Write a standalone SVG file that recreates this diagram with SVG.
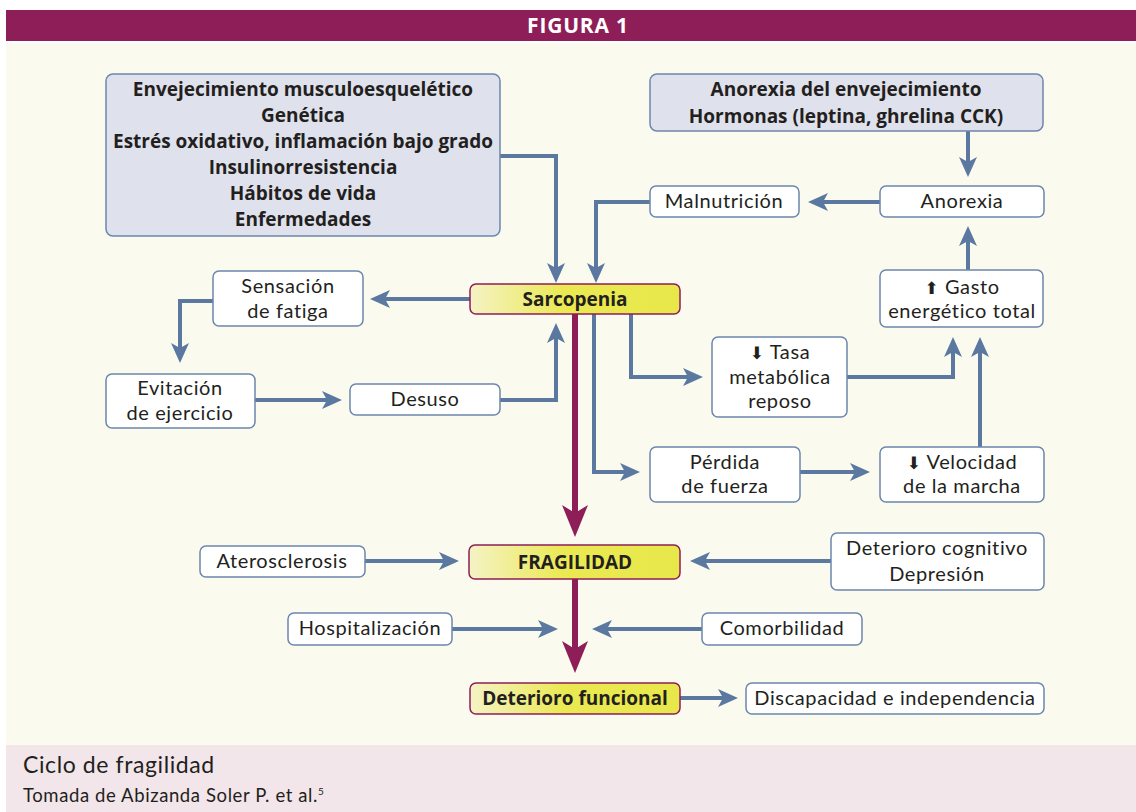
<svg xmlns="http://www.w3.org/2000/svg" width="1136" height="812" viewBox="0 0 1136 812">
  <style>
    .box { fill: #ffffff; stroke: #6c87ad; stroke-width: 1.5; }
    .grey { fill: #dfe2ec; stroke: #6c87ad; stroke-width: 1.5; }
    .key { fill: url(#yellow); stroke: #8e1e58; stroke-width: 1.5; }
    .t { font-family: Lato, "Open Sans", "Liberation Sans", sans-serif; font-size: 20px; letter-spacing: 0.6px; fill: #231f20; text-anchor: middle; }
    .b { font-family: "Open Sans", "Liberation Sans", sans-serif; font-weight: bold; font-size: 19px; letter-spacing: 0; }
    .ico { font-family: "DejaVu Sans", sans-serif; font-size: 17px; }
    .link { fill: none; stroke: #5b78a1; stroke-width: 4; marker-end: url(#head); }
    .main { fill: none; stroke: #8e1e58; stroke-width: 6; marker-end: url(#bighead); }
  </style>
  <defs>
    <linearGradient id="yellow" x1="0" y1="0" x2="1" y2="0">
      <stop offset="0" stop-color="#f5f3c6"/>
      <stop offset="0.45" stop-color="#eae952"/>
      <stop offset="1" stop-color="#e8e74a"/>
    </linearGradient>
    <marker id="head" viewBox="0 0 20 18" refX="10" refY="9" markerWidth="20" markerHeight="18" markerUnits="userSpaceOnUse" orient="auto">
      <path d="M0,0 L20,9 L0,18 L5,9 Z" fill="#5b78a1"/>
    </marker>
    <marker id="bighead" viewBox="0 0 32 26" refX="16" refY="13" markerWidth="32" markerHeight="26" markerUnits="userSpaceOnUse" orient="auto">
      <path d="M0,0 L32,13 L0,26 L8,13 Z" fill="#8e1e58"/>
    </marker>
  </defs>

  <!-- page frame -->
  <rect x="0" y="0" width="1136" height="812" fill="#ffffff"/>
  <rect x="6" y="10" width="1130" height="31" fill="#8e1e58"/>
  <text x="578" y="33" font-family="Open Sans, Liberation Sans, sans-serif" font-size="21" font-weight="bold" letter-spacing="0.8" fill="#ffffff" text-anchor="middle">FIGURA 1</text>
  <rect x="6" y="43" width="1130" height="702" fill="#fafbee"/>
  <rect x="6" y="745" width="1130" height="67" fill="#f2e6ea"/>
  <text x="23" y="773" font-family="Lato, Open Sans, Liberation Sans, sans-serif" font-size="23" letter-spacing="0.6" fill="#231f20">Ciclo de fragilidad</text>
  <text x="23" y="802" font-family="Lato, Open Sans, Liberation Sans, sans-serif" font-size="18.5" letter-spacing="0.6" fill="#231f20">Tomada de Abizanda Soler P. et al.<tspan font-size="10" dy="-7">5</tspan></text>

  <!-- connectors -->
  <g id="connectors">
    <path class="link" d="M500,156 H556 V273"/>
    <path class="link" d="M650,202 H596 V273"/>
    <path class="link" d="M968,131 V167"/>
    <path class="link" d="M880,202 H818"/>
    <path class="link" d="M968,270 V236"/>
    <path class="link" d="M470,299 H380"/>
    <path class="link" d="M213,301 H180 V353"/>
    <path class="link" d="M255,400 H332"/>
    <path class="link" d="M500,400 H556 V333"/>
    <path class="link" d="M594,314 V472 H630"/>
    <path class="link" d="M631,314 V377 H693"/>
    <path class="link" d="M847,377 H953 V347"/>
    <path class="link" d="M980,447 V347"/>
    <path class="link" d="M800,472 H860"/>
    <path class="link" d="M365,561 H449"/>
    <path class="link" d="M831,561 H700"/>
    <path class="link" d="M452,629 H548"/>
    <path class="link" d="M702,629 H602"/>
    <path class="link" d="M680,698 H728"/>
    <path class="main" d="M575,314 V521"/>
    <path class="main" d="M575,579 V657"/>
  </g>

  <g id="factores">
    <rect class="grey" x="106" y="74" width="394" height="162" rx="7"/>
    <text class="t b" x="303" y="96">Envejecimiento musculoesquelético</text>
    <text class="t b" x="303" y="122">Genética</text>
    <text class="t b" x="303" y="148">Estrés oxidativo, inflamación bajo grado</text>
    <text class="t b" x="303" y="174">Insulinorresistencia</text>
    <text class="t b" x="303" y="200">Hábitos de vida</text>
    <text class="t b" x="303" y="226">Enfermedades</text>
  </g>
  <g id="anorexia-envejecimiento">
    <rect class="grey" x="650" y="74" width="393" height="57" rx="7"/>
    <text class="t b" x="846" y="96">Anorexia del envejecimiento</text>
    <text class="t b" x="846" y="123">Hormonas (leptina, ghrelina CCK)</text>
  </g>
  <g id="malnutricion">
    <rect class="box" x="650" y="186" width="149" height="31" rx="6"/>
    <text class="t" x="724" y="208">Malnutrición</text>
  </g>
  <g id="anorexia">
    <rect class="box" x="880" y="186" width="164" height="31" rx="6"/>
    <text class="t" x="962" y="208">Anorexia</text>
  </g>
  <g id="sarcopenia">
    <rect class="key" x="470" y="284" width="210" height="30" rx="6"/>
    <text class="t b" x="575" y="306">Sarcopenia</text>
  </g>
  <g id="fatiga">
    <rect class="box" x="213" y="271" width="150" height="55" rx="6"/>
    <text class="t" x="288" y="293">Sensación</text>
    <text class="t" x="288" y="318">de fatiga</text>
  </g>
  <g id="evitacion">
    <rect class="box" x="106" y="374" width="149" height="54" rx="6"/>
    <text class="t" x="180" y="395">Evitación</text>
    <text class="t" x="180" y="420">de ejercicio</text>
  </g>
  <g id="desuso">
    <rect class="box" x="350" y="384" width="150" height="31" rx="6"/>
    <text class="t" x="425" y="406">Desuso</text>
  </g>
  <g id="gasto">
    <rect class="box" x="880" y="270" width="163" height="57" rx="6"/>
    <text class="t" x="962" y="294"><tspan class="ico">⬆</tspan> Gasto</text>
    <text class="t" x="962" y="318">energético total</text>
  </g>
  <g id="tasa">
    <rect class="box" x="712" y="337" width="135" height="80" rx="6"/>
    <text class="t" x="780" y="359"><tspan class="ico">⬇</tspan> Tasa</text>
    <text class="t" x="780" y="384">metabólica</text>
    <text class="t" x="780" y="408">reposo</text>
  </g>
  <g id="perdida">
    <rect class="box" x="650" y="447" width="150" height="55" rx="6"/>
    <text class="t" x="725" y="469">Pérdida</text>
    <text class="t" x="725" y="493">de fuerza</text>
  </g>
  <g id="velocidad">
    <rect class="box" x="880" y="447" width="164" height="55" rx="6"/>
    <text class="t" x="962" y="469"><tspan class="ico">⬇</tspan> Velocidad</text>
    <text class="t" x="962" y="493">de la marcha</text>
  </g>
  <g id="aterosclerosis">
    <rect class="box" x="200" y="546" width="165" height="31" rx="6"/>
    <text class="t" x="282" y="568">Aterosclerosis</text>
  </g>
  <g id="fragilidad">
    <rect class="key" x="469" y="545" width="211" height="34" rx="6" stroke-width="2.5"/>
    <text class="t b" x="575" y="569" font-size="20" letter-spacing="1">FRAGILIDAD</text>
  </g>
  <g id="cognitivo">
    <rect class="box" x="831" y="533" width="213" height="57" rx="6"/>
    <text class="t" x="937" y="555">Deterioro cognitivo</text>
    <text class="t" x="937" y="581">Depresión</text>
  </g>
  <g id="hospitalizacion">
    <rect class="box" x="288" y="613" width="164" height="32" rx="6"/>
    <text class="t" x="370" y="635">Hospitalización</text>
  </g>
  <g id="comorbilidad">
    <rect class="box" x="702" y="613" width="160" height="32" rx="6"/>
    <text class="t" x="782" y="635">Comorbilidad</text>
  </g>
  <g id="funcional">
    <rect class="key" x="470" y="683" width="210" height="31" rx="6"/>
    <text class="t b" x="575" y="705">Deterioro funcional</text>
  </g>
  <g id="discapacidad">
    <rect class="box" x="746" y="683" width="298" height="31" rx="6"/>
    <text class="t" x="895" y="705">Discapacidad e independencia</text>
  </g>
</svg>
